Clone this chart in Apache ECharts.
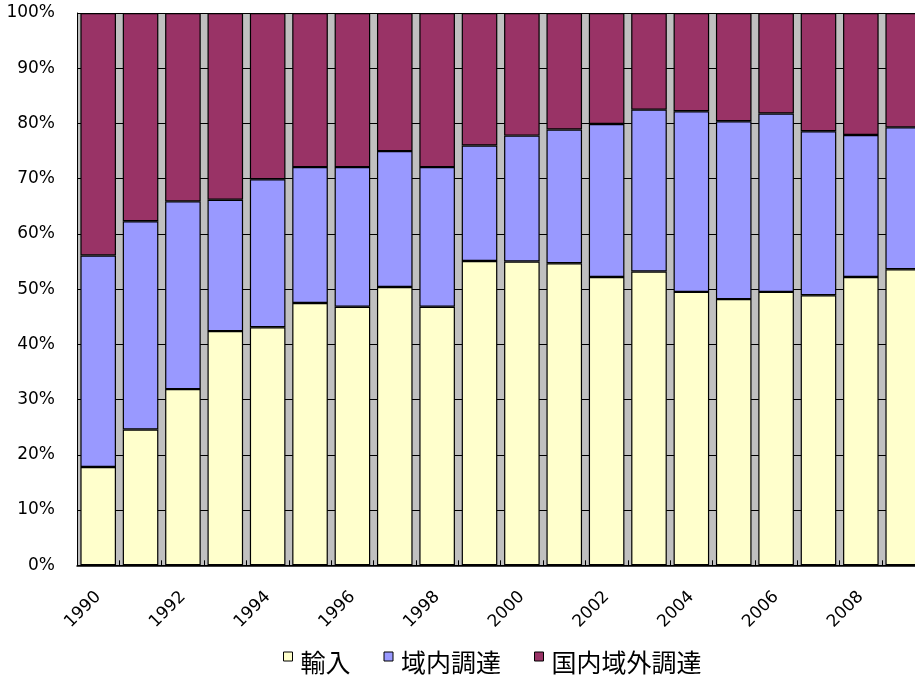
<!DOCTYPE html>
<html>
<head>
<meta charset="utf-8">
<script src="https://cdn.jsdelivr.net/npm/echarts@6/dist/echarts.min.js"></script>
<style>
  html, body { margin: 0; padding: 0; background: #fff; }
  #chart { width: 915px; height: 677px; }
</style>
</head>
<body>
<div id="chart"></div>
<script>
// Fiscal years on the category axis
const years = ['1990','1991','1992','1993','1994','1995','1996','1997','1998','1999',
               '2000','2001','2002','2003','2004','2005','2006','2007','2008','2009'];

// Shares of procurement (%), each year sums to 100
const importShare   = [17.8,24.6,31.9,42.4,43.1,47.5,46.8,50.4,46.8,55.1,55.0,54.7,52.2,53.2,49.5,48.2,49.5,48.9,52.2,53.6];
const regionalShare = [38.3,37.7,34.0,23.8,26.8,24.6,25.3,24.6,25.3,20.9,22.8,24.2,27.7,29.3,32.7,32.2,32.3,29.7,25.7,25.7];
const outsideShare  = [43.9,37.7,34.1,33.8,30.1,27.9,27.9,25.0,27.9,24.0,22.2,21.1,20.1,17.5,17.8,19.6,18.2,21.4,22.1,20.7];

const seriesNames = ['輸入', '域内調達', '国内域外調達'];
const seriesColors = ['#FFFFCC', '#9999FF', '#993366'];
const seriesData = [importShare, regionalShare, outsideShare];

const labelFont = 'DejaVu Sans';

// Legend swatch: small square sitting in the upper part of a taller box,
// so it rides above the text's middle line
const swatchIcon = 'path://M0,0L9,0L9,9L0,9Z M0,21L0.001,21';

const chart = echarts.init(document.getElementById('chart'), null, { renderer: 'canvas' });

chart.setOption({
  animation: false,
  backgroundColor: '#ffffff',
  grid: {
    left: 77,
    width: 847.4,
    top: 13,
    bottom: 111.7,
    outerBoundsMode: 'none',
    containLabel: false,
    show: true,
    backgroundColor: '#C0C0C0',
    borderWidth: 0
  },
  legend: {
    data: seriesNames,
    left: 283,
    top: 650,
    padding: 0,
    itemWidth: 9,
    itemHeight: 21,
    itemGap: 33,
    icon: swatchIcon,
    textStyle: {
      fontFamily: 'Noto Sans CJK JP',
      fontSize: 25,
      color: '#000',
      padding: [0, 0, 0, 3]
    },
    itemStyle: { borderColor: '#000', borderWidth: 1 }
  },
  xAxis: {
    type: 'category',
    data: years,
    boundaryGap: true,
    axisLine: { show: true, lineStyle: { color: '#000', width: 1.5 } },
    axisTick: { show: true, inside: true, length: 5, interval: 0, lineStyle: { color: '#000' } },
    axisLabel: {
      interval: 1,
      rotate: 45,
      margin: 29,
      fontFamily: labelFont,
      fontSize: 17,
      color: '#000'
    },
    splitLine: { show: false }
  },
  yAxis: {
    type: 'value',
    min: 0,
    max: 100,
    interval: 10,
    axisLine: { show: true, lineStyle: { color: '#000', width: 1 } },
    axisTick: { show: false },
    axisLabel: {
      formatter: '{value}%',
      margin: 22,
      fontFamily: labelFont,
      fontSize: 17,
      color: '#000'
    },
    splitLine: { show: true, lineStyle: { color: '#000', width: 1 } }
  },
  series: seriesNames.map((name, i) => ({
    name: name,
    type: 'bar',
    stack: 'share',
    barCategoryGap: '16%',
    data: seriesData[i],
    itemStyle: {
      color: seriesColors[i],
      borderColor: '#000',
      borderWidth: 1.2
    }
  }))
});
</script>
</body>
</html>
